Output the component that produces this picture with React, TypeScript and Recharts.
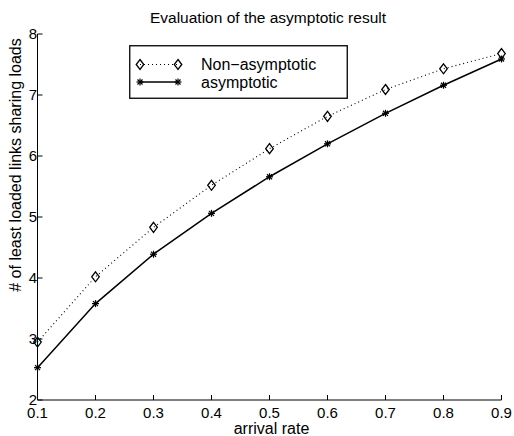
import React from 'react';
import { LineChart, Line, XAxis, YAxis, Legend, Customized } from 'recharts';

// Arrival rates on the x axis
const rates = [0.1, 0.2, 0.3, 0.4, 0.5, 0.6, 0.7, 0.8, 0.9];
// Number of least loaded links sharing loads
const nonAsymptotic = [2.95, 4.02, 4.83, 5.52, 6.12, 6.65, 7.09, 7.43, 7.68];
const asymptotic = [2.53, 3.58, 4.39, 5.06, 5.66, 6.2, 6.7, 7.16, 7.59];

const xTicks = [0.1, 0.2, 0.3, 0.4, 0.5, 0.6, 0.7, 0.8, 0.9];
const yTicks = [2, 3, 4, 5, 6, 7, 8];

const data = rates.map((r, i) => ({ rate: r, nonAsym: nonAsymptotic[i], asym: asymptotic[i] }));

const FONT = '"Liberation Sans", Arial, Helvetica, sans-serif';

const Diamond = ({ cx, cy }: { cx: number; cy: number }) => (
  <path
    d={`M${cx},${cy - 5} L${cx + 3.8},${cy} L${cx},${cy + 5} L${cx - 3.8},${cy} Z`}
    fill="none"
    stroke="#000"
    strokeWidth={1.3}
  />
);

const Star = ({ cx, cy }: { cx: number; cy: number }) => {
  const r = 3.5;
  const d = r * 0.72;
  return (
    <g stroke="#000" strokeWidth={1.2}>
      <line x1={cx - r} y1={cy} x2={cx + r} y2={cy} />
      <line x1={cx} y1={cy - r} x2={cx} y2={cy + r} />
      <line x1={cx - d} y1={cy - d} x2={cx + d} y2={cy + d} />
      <line x1={cx - d} y1={cy + d} x2={cx + d} y2={cy - d} />
    </g>
  );
};

const renderDiamond = (p: any) => <Diamond key={`d-${p.index}`} cx={p.cx} cy={p.cy} />;
const renderStar = (p: any) => <Star key={`s-${p.index}`} cx={p.cx} cy={p.cy} />;

const LegendBox = () => (
  <svg width={219} height={54} style={{ display: 'block' }}>
    <rect x={0.75} y={0.75} width={217.5} height={52.5} fill="#fff" stroke="#000" strokeWidth={1.3} />
    <line x1={11} y1={19.5} x2={49} y2={19.5} stroke="#000" strokeWidth={1} strokeDasharray="1 3" />
    <Diamond cx={11} cy={19.5} />
    <Diamond cx={49} cy={19.5} />
    <text x={72} y={25} fontFamily={FONT} fontSize={16} fill="#000">Non−asymptotic</text>
    <line x1={11} y1={37} x2={49} y2={37} stroke="#000" strokeWidth={1.3} />
    <Star cx={11} cy={37} />
    <Star cx={49} cy={37} />
    <text x={72} y={42.5} fontFamily={FONT} fontSize={16} fill="#000">asymptotic</text>
  </svg>
);

const Title = () => (
  <text x={268} y={22.5} textAnchor="middle" fontFamily={FONT} fontSize={15.5} fill="#000">
    Evaluation of the asymptotic result
  </text>
);

const tickStyle = { fontSize: 15, fill: '#000', fontFamily: FONT };
const empty = () => '';

export default function App() {
  return (
    <div style={{ position: 'absolute', left: 0, top: 0, background: '#fff' }}>
      <LineChart width={514} height={436} data={data} margin={{ top: 34, right: 12.5, bottom: 0, left: 0 }}>
        <XAxis
          dataKey="rate"
          type="number"
          domain={[0.1, 0.9]}
          ticks={xTicks}
          height={36}
          tickSize={-5}
          tickMargin={12}
          tick={tickStyle}
          axisLine={{ stroke: '#000' }}
          tickLine={{ stroke: '#000' }}
          label={(props: any) => {
            const vb = props.viewBox || { x: 37, y: 400, width: 464, height: 36 };
            return (
              <text x={vb.x + vb.width / 2 + 2} y={vb.y + 34} textAnchor="middle" fontFamily={FONT} fontSize={16} fill="#000">
                arrival rate
              </text>
            );
          }}
        />
        <XAxis
          xAxisId="top"
          orientation="top"
          dataKey="rate"
          type="number"
          domain={[0.1, 0.9]}
          ticks={xTicks}
          height={0}
          tickSize={-5}
          tickFormatter={empty}
          axisLine={{ stroke: '#000' }}
          tickLine={{ stroke: '#000' }}
        />
        <YAxis
          type="number"
          domain={[2, 8]}
          ticks={yTicks}
          width={37.5}
          tickSize={-5}
          tickMargin={5.5}
          tick={tickStyle}
          axisLine={{ stroke: '#000' }}
          tickLine={{ stroke: '#000' }}
          label={() => (
            <text
              x={21}
              y={165}
              transform="rotate(-90 21 165)"
              textAnchor="middle"
              fontFamily={FONT}
              fontSize={16}
              fill="#000"
            >
              # of least loaded links sharing loads
            </text>
          )}
        />
        <YAxis
          yAxisId="right"
          orientation="right"
          type="number"
          domain={[2, 8]}
          ticks={yTicks}
          width={0}
          tickSize={-5}
          tickFormatter={empty}
          axisLine={{ stroke: '#000' }}
          tickLine={{ stroke: '#000' }}
        />
        <Legend
          layout="vertical"
          align="center"
          verticalAlign="middle"
          content={() => <LegendBox />}
          wrapperStyle={{ position: 'absolute', left: 129, top: 45, width: 219, height: 54 }}
        />
        <Customized component={Title} />
        <Line
          dataKey="nonAsym"
          name="Non−asymptotic"
          stroke="#000"
          strokeWidth={1.1}
          strokeDasharray="1 3"
          dot={renderDiamond}
          isAnimationActive={false}
        />
        <Line
          dataKey="asym"
          name="asymptotic"
          stroke="#000"
          strokeWidth={1.5}
          dot={renderStar}
          isAnimationActive={false}
        />
      </LineChart>
    </div>
  );
}
